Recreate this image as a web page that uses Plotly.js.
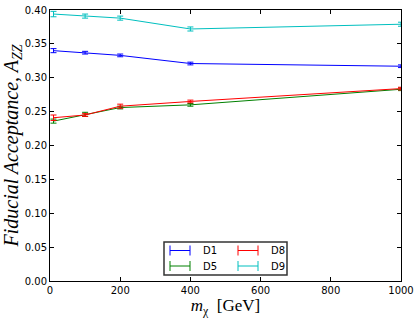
<!DOCTYPE html>
<html>
<head>
<meta charset="utf-8">
<script src="https://cdn.plot.ly/plotly-3.0.1.min.js"></script>
<style>
  html, body { margin: 0; padding: 0; background: #fff; }
  #chart { width: 415px; height: 322px; }
</style>
</head>
<body>
<div id="chart"></div>
<script>
// dark matter mass points (GeV)
var masses = [10, 100, 200, 400, 1000];

var names = ['D1', 'D5', 'D8', 'D9'];
var colors = ['#0000ff', '#008000', '#ff0000', '#00bfbf'];

// fiducial acceptance
var accD1 = [0.340, 0.337, 0.333, 0.321, 0.317];
var accD5 = [0.236, 0.246, 0.256, 0.260, 0.283];
var accD8 = [0.241, 0.245, 0.258, 0.265, 0.284];
var accD9 = [0.394, 0.391, 0.388, 0.372, 0.379];

var errD1 = [0.003, 0.002, 0.002, 0.002, 0.002];
var errD5 = [0.003, 0.003, 0.002, 0.002, 0.002];
var errD8 = [0.004, 0.002, 0.003, 0.002, 0.002];
var errD9 = [0.004, 0.003, 0.003, 0.003, 0.003];

var values = [accD1, accD5, accD8, accD9];
var errors = [errD1, errD5, errD8, errD9];

var data = [];
for (var i = 0; i < names.length; i++) {
    data.push({
        x: masses,
        y: values[i],
        name: names[i],
        type: 'scatter',
        mode: 'lines',
        line: {color: colors[i], width: 1},
        error_y: {type: 'data', array: errors[i], visible: true,
                  color: colors[i], thickness: 1, width: 3},
        showlegend: false
    });
}

// plot area in pixels, used for the hand made legend
var L = 50, R = 14, T = 10, B = 41, W = 415, H = 322;
function px(x) { return (x - L) / (W - L - R); }
function py(y) { return (H - B - y) / (H - T - B); }

var shapes = [{
    type: 'rect', xref: 'paper', yref: 'paper',
    x0: px(164), x1: px(287), y0: py(275), y1: py(242),
    line: {color: '#333', width: 1.5}, fillcolor: 'white'
}];
var annotations = [];
// legend layout: D1 D8 / D5 D9
var legPos = [[170, 250.5], [170, 266], [238, 250.5], [238, 266]];
for (var i = 0; i < names.length; i++) {
    var x0 = legPos[i][0], yc = legPos[i][1];
    var ln = {color: colors[i], width: 1};
    shapes.push({type: 'line', xref: 'paper', yref: 'paper',
        x0: px(x0), x1: px(x0 + 20), y0: py(yc), y1: py(yc), line: ln});
    shapes.push({type: 'line', xref: 'paper', yref: 'paper',
        x0: px(x0), x1: px(x0), y0: py(yc - 5), y1: py(yc + 5), line: ln});
    shapes.push({type: 'line', xref: 'paper', yref: 'paper',
        x0: px(x0 + 20), x1: px(x0 + 20), y0: py(yc - 5), y1: py(yc + 5), line: ln});
    annotations.push({xref: 'paper', yref: 'paper', x: px(x0 + 31), y: py(yc),
        xanchor: 'left', yanchor: 'middle', text: names[i], showarrow: false,
        font: {family: 'DejaVu Sans', size: 10, color: '#000'}});
}

var layout = {
    width: W,
    height: H,
    margin: {l: L, r: R, t: T, b: B},
    paper_bgcolor: 'white',
    plot_bgcolor: 'white',
    font: {family: 'DejaVu Sans', size: 10, color: '#000'},
    xaxis: {
        range: [0, 1000],
        tickvals: [0, 200, 400, 600, 800, 1000],
        ticks: 'inside', ticklen: 4, tickcolor: '#000',
        showline: true, linecolor: '#000', linewidth: 1, mirror: 'ticks',
        showgrid: false, zeroline: false,
        title: {text: '<i>m</i><sub>χ</sub>  [GeV]', standoff: 4,
                font: {family: 'Liberation Serif', size: 17}}
    },
    yaxis: {
        range: [0, 0.40],
        dtick: 0.05,
        tickformat: '.2f',
        ticks: 'inside', ticklen: 4, tickcolor: '#000',
        showline: true, linecolor: '#000', linewidth: 1, mirror: 'ticks',
        showgrid: false, zeroline: false,
        title: {text: '<i>Fiducial Acceptance, A</i><sub><i>ZZ</i></sub>', standoff: 5,
                font: {family: 'Liberation Serif', size: 20}}
    },
    shapes: shapes,
    annotations: annotations,
    showlegend: false
};

Plotly.newPlot('chart', data, layout, {displayModeBar: false, staticPlot: true});
</script>
</body>
</html>
